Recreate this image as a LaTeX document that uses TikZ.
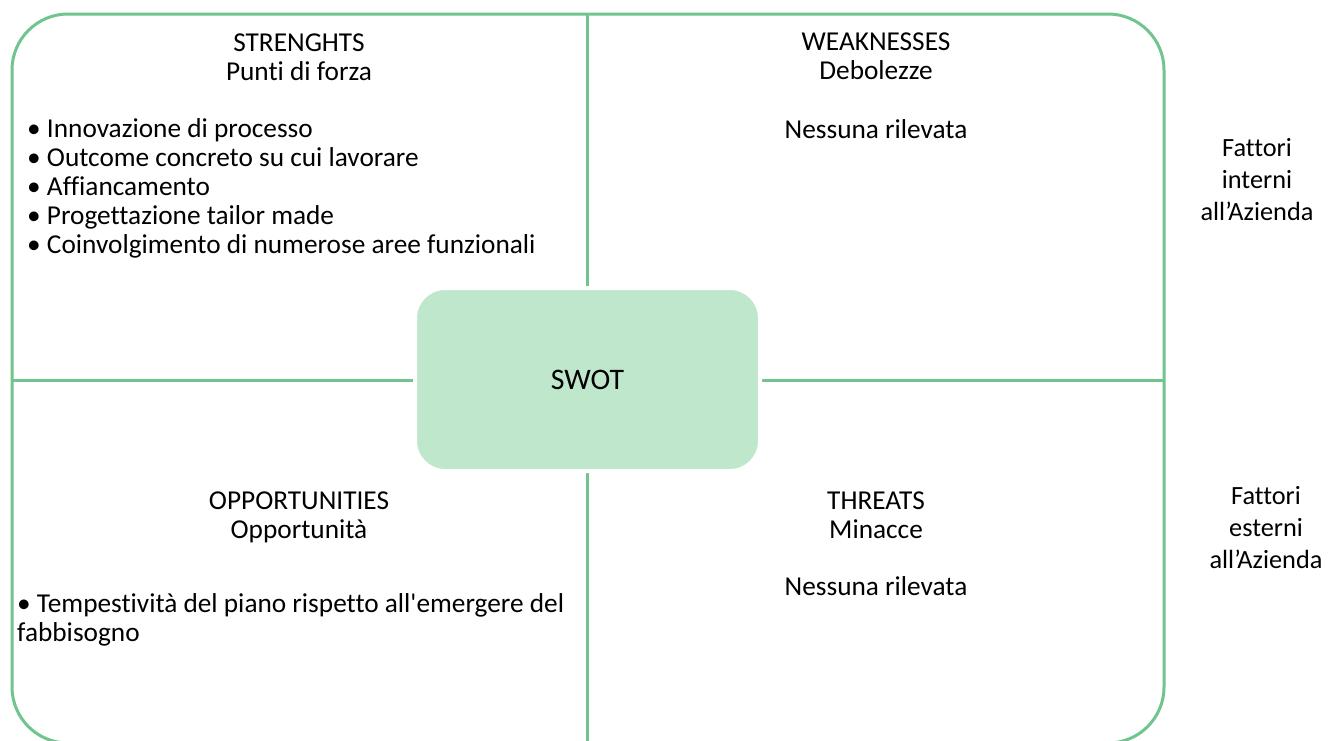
\documentclass[tikz,border=0pt]{standalone}
\usepackage{fontspec}
\setmainfont{Carlito}[Ligatures={NoCommon}]
\usetikzlibrary{positioning}
\definecolor{swotline}{RGB}{112,196,142}
\definecolor{swotfill}{RGB}{190,231,204}
\tikzset{
    frame/.style={draw=swotline, line width=3pt, rounded corners=56pt},
    divider/.style={draw=swotline, line width=3pt},
    core/.style={fill=swotfill, draw=white, line width=4pt, rounded corners=30pt,
        minimum width=345pt, minimum height=183pt, font=\fontsize{29.8}{34}\selectfont},
    heading/.style={align=center, inner sep=0pt, anchor=base,
        font=\fontsize{27.3}{29}\selectfont},
    bullets/.style={align=left, inner sep=0pt, anchor=base west,
        font=\fontsize{27.3}{28.8}\selectfont},
    side/.style={align=center, inner sep=0pt, anchor=base,
        font=\fontsize{26.3}{31.7}\selectfont}
}

\begin{document}
\begin{tikzpicture}[x=1pt, y=-1pt]
    \useasboundingbox (0,0) rectangle (1337,740);

    % Frame and cross
    \coordinate (top)    at (587,14);
    \coordinate (bottom) at (587,743);
    \coordinate (left)   at (12,380);
    \coordinate (right)  at (1164,380);
    \begin{scope}
        \clip (0,0) rectangle (1337,740);
        \draw[frame] (12,14) rectangle (1164,743);
        \draw[divider] (top) -- (bottom);
        \draw[divider] (left) -- (right);
    \end{scope}

    % Centre box
    \node[core] (swot) at (587.5,379.5) {SWOT};

    % The four quadrants (anchored on the last line)
    \node[heading] (s) at (299,80) {STRENGHTS\\Punti di forza};
    \node[bullets] (slist) at (27,253) {• Innovazione di processo\\
        • Outcome concreto su cui lavorare\\
        • Affiancamento\\
        • Progettazione tailor made\\
        • Coinvolgimento di numerose aree funzionali};

    \node[heading] (w) at (876,79) {WEAKNESSES\\Debolezze};
    \node[heading] (wlist) at (876,138) {Nessuna rilevata};

    \node[heading] (o) at (299,538) {OPPORTUNITIES\\Opportunità};
    \node[bullets] (olist) at (17,641) {• Tempestività del piano rispetto all\textquotesingle emergere del\\
        fabbisogno};

    \node[heading] (t) at (876,538) {THREATS\\Minacce};
    \node[heading] (tlist) at (876,595) {Nessuna rilevata};

    % Side labels
    \node[side] (internal) at (1257,220) {Fattori\\interni\\all’Azienda};
    \node[side] (external) at (1266,568) {Fattori\\esterni\\all’Azienda};
\end{tikzpicture}
\end{document}
